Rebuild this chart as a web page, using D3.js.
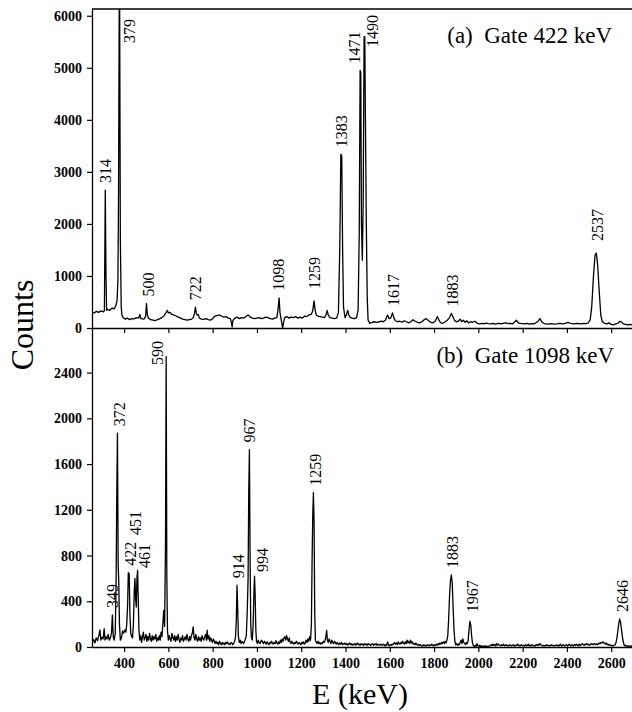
<!DOCTYPE html>
<html>
<head>
<meta charset="utf-8">
<script src="https://cdn.jsdelivr.net/npm/d3@7"></script>
<style>
    body { margin: 0; background: #fff; }
    svg { display: block; font-family: "Liberation Serif", "Times New Roman", serif; }
    .title { white-space: pre; }
</style>
</head>
<body>
<svg id="chart"></svg>
<script>
// ---- data ----
var energiesA = [256,265,275,285,295,305,311,315,318,321,325,335,345,355,362,368,372,375,379,383,387,390,395,405,415,425,435,445,455,466,471,476,490,497,501,505,510,520,530,540,550,560,570,580,590,595,600,607,615,625,635,645,655,665,675,685,695,705,712,718,722,726,730,735,740,750,760,770,780,790,800,810,820,830,840,850,860,870,880,885,888,891,900,910,920,930,940,950,960,970,980,990,1000,1010,1020,1030,1040,1050,1060,1070,1080,1090,1095,1100,1104,1108,1112,1116,1120,1125,1135,1145,1155,1165,1175,1185,1195,1205,1215,1225,1235,1245,1252,1258,1263,1268,1275,1285,1295,1305,1312,1317,1322,1330,1340,1350,1360,1368,1374,1379,1383,1387,1391,1398,1404,1410,1415,1422,1430,1440,1450,1457,1462,1466,1469,1472,1476,1480,1484,1487,1490,1494,1498,1502,1510,1520,1530,1540,1550,1560,1570,1580,1590,1597,1605,1612,1618,1625,1635,1645,1655,1665,1675,1685,1695,1705,1715,1725,1735,1745,1755,1765,1775,1785,1795,1805,1815,1822,1830,1840,1850,1860,1870,1878,1885,1892,1900,1910,1918,1925,1932,1940,1948,1955,1965,1975,1985,1995,2005,2015,2025,2035,2045,2055,2065,2075,2085,2095,2105,2115,2125,2135,2145,2155,2165,2172,2180,2190,2200,2210,2220,2230,2240,2250,2260,2270,2278,2286,2295,2305,2315,2325,2335,2345,2355,2365,2375,2385,2395,2405,2415,2425,2435,2445,2455,2465,2475,2485,2495,2505,2512,2520,2527,2533,2539,2546,2553,2560,2570,2580,2590,2600,2610,2620,2630,2640,2648,2655,2665,2675,2685,2695];
var countsA = [300,290,320,300,330,310,330,2650,1080,340,360,340,380,370,420,520,900,2640,7500,1690,400,250,200,170,190,160,180,175,200,190,260,180,170,220,470,250,190,160,150,140,160,175,200,230,300,340,290,300,260,250,230,210,190,170,160,150,160,170,200,280,400,290,250,260,190,170,165,180,160,150,180,230,240,250,230,210,220,190,180,100,20,140,190,210,180,200,190,220,250,210,190,180,190,200,180,190,210,200,180,170,190,200,350,580,300,200,100,0,100,200,220,190,210,200,220,190,210,190,230,220,250,260,330,520,340,250,230,220,210,200,250,340,250,200,190,180,190,300,1500,3340,3300,1500,400,200,250,340,250,200,190,180,200,350,1800,4950,4900,2000,1300,2500,5600,5600,4000,2000,600,150,90,110,120,110,115,130,120,150,250,180,200,290,200,140,120,130,110,140,120,100,120,160,130,110,100,120,160,180,140,110,100,130,220,150,100,90,120,150,200,280,220,150,120,130,170,120,150,110,140,100,120,110,130,90,80,90,80,95,85,80,90,75,85,90,80,95,100,85,90,80,120,150,100,90,85,80,90,75,85,80,100,130,180,120,90,80,75,85,80,75,80,90,85,80,95,110,90,85,80,90,85,80,90,85,95,150,400,1000,1400,1440,1200,700,250,120,90,80,100,70,60,80,90,130,110,80,70,60,70,60];

var energiesB = [256,262,268,274,280,286,291,295,300,305,310,314,318,323,328,333,338,343,347,351,355,360,364,367,370,373,376,379,383,388,393,398,403,408,412,416,419,423,426,430,434,438,442,446,449,452,455,458,461,464,467,471,475,479,483,487,491,495,499,503,507,511,515,519,523,527,531,535,539,543,547,551,555,559,563,567,571,575,579,583,587,590,593,596,600,604,608,612,616,620,624,628,632,636,640,644,648,652,656,660,664,668,672,676,680,684,688,692,696,700,704,708,712,716,720,724,728,732,736,740,744,748,752,756,760,764,768,772,775,779,783,787,791,795,799,803,807,811,815,819,823,827,831,835,839,843,847,851,855,859,863,867,871,875,879,883,887,891,895,899,903,907,910,913,916,920,924,928,932,936,940,944,948,952,956,960,963,966,969,972,975,979,983,986,989,992,995,998,1002,1006,1010,1014,1018,1022,1026,1030,1034,1038,1042,1046,1050,1054,1058,1062,1066,1070,1074,1078,1082,1086,1090,1094,1098,1102,1106,1110,1114,1118,1122,1126,1130,1134,1138,1142,1146,1150,1154,1158,1162,1166,1170,1174,1178,1182,1186,1190,1194,1198,1202,1206,1210,1214,1218,1222,1226,1230,1234,1238,1242,1246,1249,1252,1255,1258,1261,1264,1268,1272,1276,1280,1284,1288,1292,1296,1300,1304,1308,1312,1315,1318,1322,1326,1330,1334,1338,1342,1346,1350,1354,1358,1362,1366,1370,1374,1378,1382,1386,1390,1394,1398,1402,1406,1410,1414,1418,1422,1426,1430,1434,1438,1442,1446,1450,1454,1458,1462,1466,1470,1474,1478,1482,1486,1490,1494,1498,1502,1506,1510,1514,1518,1522,1526,1530,1534,1538,1542,1546,1550,1554,1558,1562,1566,1570,1574,1578,1582,1586,1590,1594,1598,1602,1606,1610,1614,1618,1622,1626,1630,1634,1638,1642,1646,1650,1654,1658,1662,1666,1670,1674,1678,1682,1686,1690,1694,1698,1702,1706,1710,1714,1718,1722,1726,1730,1734,1738,1742,1746,1750,1754,1758,1762,1766,1770,1774,1778,1782,1786,1790,1794,1798,1802,1806,1810,1814,1818,1822,1826,1830,1834,1838,1842,1846,1850,1854,1858,1862,1866,1870,1874,1878,1882,1886,1890,1894,1898,1902,1906,1910,1914,1918,1922,1926,1930,1934,1938,1942,1946,1950,1954,1958,1962,1966,1970,1974,1978,1982,1986,1990,1994,1998,2002,2006,2010,2014,2018,2022,2026,2030,2034,2038,2042,2046,2050,2054,2058,2062,2066,2070,2074,2078,2082,2086,2090,2094,2098,2102,2106,2110,2114,2118,2122,2126,2130,2134,2138,2142,2146,2150,2154,2158,2162,2166,2170,2174,2178,2182,2186,2190,2194,2198,2202,2206,2210,2214,2218,2222,2226,2230,2234,2238,2242,2246,2250,2254,2258,2262,2266,2270,2274,2278,2282,2286,2290,2294,2298,2302,2306,2310,2314,2318,2322,2326,2330,2334,2338,2342,2346,2350,2354,2358,2362,2366,2370,2374,2378,2382,2386,2390,2394,2398,2402,2406,2410,2414,2418,2422,2426,2430,2434,2438,2442,2446,2450,2454,2458,2462,2466,2470,2474,2478,2482,2486,2490,2494,2498,2502,2506,2510,2514,2518,2522,2526,2530,2534,2538,2542,2546,2550,2554,2558,2562,2566,2570,2574,2578,2582,2586,2590,2594,2598,2602,2606,2610,2614,2618,2622,2626,2630,2634,2638,2642,2646,2650,2654,2658,2662,2666,2670,2674,2678,2682,2686,2690,2695];
var countsB = [40,65,35,80,55,100,150,60,85,70,160,60,90,70,110,60,80,120,280,90,60,120,600,1350,1870,740,560,200,60,80,140,120,150,130,200,380,650,640,300,120,90,80,200,500,600,420,350,600,670,400,150,60,100,40,90,130,60,80,110,50,90,60,120,70,50,100,60,90,70,110,50,80,60,100,60,130,90,200,320,180,900,2540,600,140,60,100,70,50,120,80,60,100,50,90,60,110,70,40,80,60,100,50,70,90,60,110,70,50,90,60,100,120,176,80,60,110,70,50,90,60,80,50,100,70,60,90,110,60,147,70,100,50,80,60,40,70,50,30,50,30,40,20,50,30,20,40,25,35,20,40,30,45,25,30,20,40,35,20,30,50,80,250,540,350,100,40,60,30,50,40,30,50,70,100,300,600,1360,1727,800,200,80,60,200,450,620,450,150,50,30,60,40,30,50,60,40,30,50,40,25,45,30,20,40,30,50,35,25,40,30,55,35,25,45,30,60,40,70,50,80,90,60,100,70,50,80,40,30,50,35,25,40,30,50,35,25,40,30,20,40,30,45,25,35,60,40,70,50,90,60,200,750,1140,1350,1100,300,60,40,30,50,30,40,25,35,30,50,40,60,100,145,60,40,70,50,30,60,40,30,50,40,25,40,30,20,35,25,40,20,30,25,35,20,30,15,25,35,20,30,15,25,20,30,15,25,35,20,25,15,30,20,25,15,30,20,25,15,30,20,25,15,20,30,15,25,20,30,15,25,20,15,25,20,15,25,20,10,20,15,45,20,10,20,15,25,20,30,40,25,35,20,45,30,25,40,30,50,35,25,45,30,60,35,50,30,60,35,45,25,30,20,35,20,15,25,15,20,10,15,10,20,10,15,10,20,15,10,20,15,25,15,10,20,15,25,15,30,20,35,25,40,30,45,30,50,35,60,100,250,450,580,630,560,350,150,50,20,30,15,25,20,40,60,30,70,40,30,20,40,30,60,150,225,190,90,30,10,5,15,5,30,10,5,15,5,10,5,8,5,10,5,8,4,6,10,15,20,10,25,15,20,10,30,15,25,20,15,10,20,15,25,10,15,20,10,15,10,20,15,10,15,20,10,15,10,20,25,10,15,10,20,15,10,15,10,20,10,15,25,10,15,10,20,15,10,15,10,20,15,25,15,30,20,15,10,15,10,15,10,20,15,10,15,10,20,15,10,15,10,15,20,10,15,10,25,15,10,20,15,10,15,20,10,15,25,15,10,20,15,10,20,15,25,15,20,10,25,15,20,30,20,15,25,20,30,20,25,15,20,30,25,20,30,25,20,30,20,25,35,30,40,35,45,40,30,25,35,20,25,15,20,15,10,15,10,15,20,40,80,140,200,245,220,160,100,50,20,10,15,10,5,10,8,5,10,5];

var peakLabelsA = [314, 379, 500, 722, 1098, 1259, 1383, 1471, 1490, 1617, 1883, 2537];
var peakLabelsB = [349, 372, 422, 451, 461, 590, 914, 967, 994, 1259, 1883, 1967, 2646];

var yTicksA = [0, 1000, 2000, 3000, 4000, 5000, 6000];
var yTicksB = [0, 400, 800, 1200, 1600, 2000, 2400];
var xTicks = [400, 600, 800, 1000, 1200, 1400, 1600, 1800, 2000, 2200, 2400, 2600];

var titleA = "(a)  Gate 422 keV";
var titleB = "(b)  Gate 1098 keV";

// ---- layout ----
const width = 632;
const height = 712;
const left = 92, right = 632;
const topA = 9, zeroA = 328, zeroB = 647;

const x = d3.scaleLinear([255, 2694], [left, right]);
const yA = d3.scaleLinear([0, 6130], [zeroA, topA]);
const yB = d3.scaleLinear([0, 2790], [zeroB, zeroA]);

var svg = d3.select('#chart')
    .attr("width", width)
    .attr("height", height)
    .attr("viewBox", [0, 0, width, height]);

svg.append("clipPath").attr("id", "clipA")
    .append("rect").attr("x", left).attr("y", topA).attr("width", right - left).attr("height", zeroA - topA);
svg.append("clipPath").attr("id", "clipB")
    .append("rect").attr("x", left).attr("y", zeroA).attr("width", right - left).attr("height", zeroB - zeroA);

function drawSpectrum(energies, counts, yScale, clipId) {
    var pts = energies.map(function(e, i) { return [e, counts[i]]; });
    var line = d3.line()
        .x(function(d) { return x(d[0]); })
        .y(function(d) { return yScale(Math.max(0, d[1])); });
    svg.append("path")
        .datum(pts)
        .attr("clip-path", "url(#" + clipId + ")")
        .attr("fill", "none")
        .attr("stroke", "#000")
        .attr("stroke-width", 1.3)
        .attr("stroke-linejoin", "round")
        .attr("d", line);
}

drawSpectrum(energiesA, countsA, yA, "clipA");
drawSpectrum(energiesB, countsB, yB, "clipB");

// peak height near a label energy, used to place the label above it
function peakHeight(energies, counts, e) {
    var best = 0;
    for (var i = 0; i < energies.length; i++) {
        if (Math.abs(energies[i] - e) <= 8) best = Math.max(best, counts[i]);
    }
    return best;
}

// label tweaks in pixels (dx) and explicit bottom y where the peak is too crowded
var labelTweakA = { 314: {dx: 0}, 379: {dx: 10, bottom: 43}, 500: {dx: 2}, 1098: {dx: 0}, 1259: {dx: 0, gap: 12},
    1383: {dx: 0}, 1471: {dx: -7}, 1490: {dx: 7, bottom: 47}, 1617: {dx: 0}, 1883: {dx: 0}, 2537: {dx: 0, gap: 12} };
var labelTweakB = { 372: {dx: 1}, 422: {dx: 1}, 451: {dx: 0, bottom: 535}, 461: {dx: 7, bottom: 568}, 590: {dx: -9, bottom: 365},
    994: {dx: 7, bottom: 572}, 1259: {dx: 1}, 1967: {dx: 1, gap: 9}, 2646: {dx: 1} };

function drawLabels(labels, energies, counts, yScale, tweaks) {
    labels.forEach(function(e) {
        var t = tweaks[e] || {};
        var h = peakHeight(energies, counts, e);
        var px = x(e) + (t.dx || 0);
        var py = t.bottom !== undefined ? t.bottom : Math.max(yScale(h), yScale.range()[1]) - (t.gap || 7);
        svg.append("text")
            .attr("transform", "translate(" + px + "," + py + ") rotate(-90)")
            .attr("dy", "0.35em")
            .attr("font-size", 16)
            .text(e);
    });
}

drawLabels(peakLabelsA, energiesA, countsA, yA, labelTweakA);
drawLabels(peakLabelsB, energiesB, countsB, yB, labelTweakB);

// ---- axes ----
function styleAxis(g) {
    g.attr("font-family", "\"Liberation Serif\", serif").attr("font-size", 14).attr("font-weight", "bold");
    g.select(".domain").attr("stroke-width", 1.3);
    g.selectAll(".tick line").attr("stroke-width", 1.2);
}

svg.append("g")
    .attr("transform", "translate(" + left + ",0)")
    .call(d3.axisLeft(yA).tickValues(yTicksA).tickFormat(d3.format("d")).tickSize(5).tickPadding(5).tickSizeOuter(0))
    .call(styleAxis);

svg.append("g")
    .attr("transform", "translate(" + left + ",0)")
    .call(d3.axisLeft(yB).tickValues(yTicksB).tickFormat(d3.format("d")).tickSize(5).tickPadding(5).tickSizeOuter(0))
    .call(styleAxis);

svg.append("g")
    .attr("transform", "translate(0," + zeroA + ")")
    .call(d3.axisBottom(x).tickValues(xTicks).tickSize(5).tickFormat("").tickSizeOuter(0))
    .call(styleAxis);

svg.append("g")
    .attr("transform", "translate(0," + zeroB + ")")
    .call(d3.axisBottom(x).tickValues(xTicks).tickFormat(d3.format("d")).tickSize(5).tickPadding(6).tickSizeOuter(0))
    .call(styleAxis);

// top frame line
svg.append("line")
    .attr("x1", left).attr("x2", right)
    .attr("y1", topA).attr("y2", topA)
    .attr("stroke", "#000").attr("stroke-width", 1.3);

// panel titles
svg.append("text").attr("class", "title").attr("x", 612).attr("y", 43).attr("text-anchor", "end").attr("font-size", 23).text(titleA);
svg.append("text").attr("class", "title").attr("x", 614).attr("y", 363).attr("text-anchor", "end").attr("font-size", 23).text(titleB);

// axis titles
svg.append("text")
    .attr("transform", "translate(33,325) rotate(-90)")
    .attr("text-anchor", "middle")
    .attr("font-size", 32)
    .text("Counts");

svg.append("text")
    .attr("x", 360).attr("y", 704)
    .attr("text-anchor", "middle")
    .attr("font-size", 30)
    .text("E (keV)");
</script>
</body>
</html>
